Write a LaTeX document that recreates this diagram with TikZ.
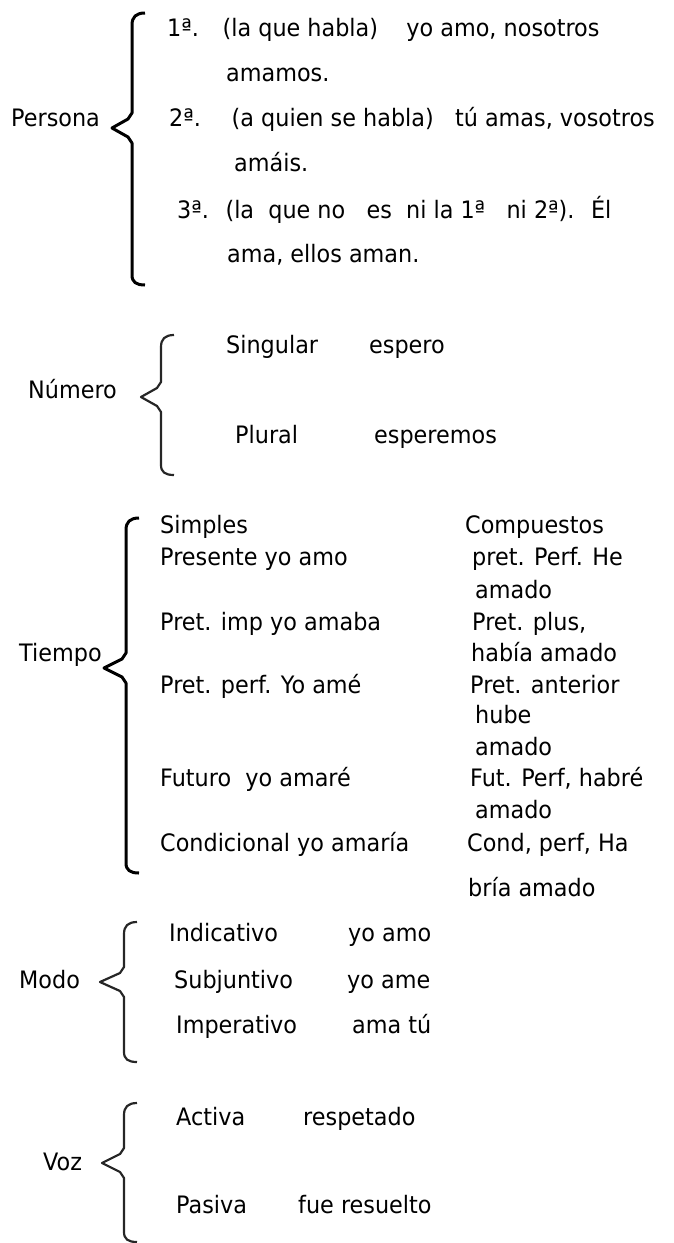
\documentclass[tikz,border=0pt]{standalone}
\usepackage{fontspec}
\setmainfont{DejaVu Sans}[FakeStretch=0.93]
\begin{document}
\begin{tikzpicture}[x=1pt,y=-1pt,
  txt/.style={anchor=base west,inner sep=0pt,font=\fontsize{24}{28}\selectfont},
  llave/.style={line width=2.2pt,line join=round,black!85},
  gruesa/.style={line width=3pt,black}]
\useasboundingbox (0,0) rectangle (673,1243);
% llave: x de la linea, arriba, abajo, punta x, punta y
\def\llave#1#2#3#4#5{
  (#1+13,#2) .. controls (#1+4,#2) and (#1,#2+4) .. (#1,#2+12)
  -- (#1,#5-15) -- (#1-4,#5-9) -- (#4,#5) -- (#1-4,#5+9) -- (#1,#5+15)
  -- (#1,#3-10) .. controls (#1,#3-3) and (#1+4,#3) .. (#1+13,#3)}
% Persona
\node[txt] (persona) at (11,126) {Persona};
\draw[llave,gruesa] \llave{132}{13}{285}{112}{128};
\node[txt] (p1) at (167,36) {1ª.~~ (la que habla)~~~ yo amo, nosotros};
\node[txt] (p2) at (226,81) {amamos.};
\node[txt] (p3) at (169,126) {2ª.~~~ (a quien se habla)~~ tú amas, vosotros};
\node[txt] (p4) at (234,171) {amáis.};
\node[txt] (p5) at (177,218) {3ª.~ (la~ que no~~ es~ ni la 1ª~~ ni 2ª).~ Él};
\node[txt] (p6) at (227,262) {ama, ellos aman.};
% Numero
\node[txt] (numero) at (28,398) {Número};
\draw[llave] \llave{161}{335}{475}{141}{397};
\node[txt] (sing) at (226,353) {Singular};
\node[txt] (espero) at (369,353) {espero};
\node[txt] (plural) at (235,443) {Plural};
\node[txt] (esperemos) at (374,443) {esperemos};
% Tiempo
\node[txt] (tiempo) at (19,661) {Tiempo};
\draw[llave,gruesa] \llave{126}{518}{873}{104}{668};
\node[txt] (simples) at (160,533) {Simples};
\node[txt] (compuestos) at (465,533) {Compuestos};
\node[txt] (t1) at (160,565) {Presente yo amo};
\node[txt] (c1) at (472,565) {pret. Perf. He};
\node[txt] (c1b) at (475,598) {amado};
\node[txt] (t2) at (160,630) {Pret. imp yo amaba};
\node[txt] (c2) at (472,630) {Pret. plus,};
\node[txt] (c2b) at (471,661) {había amado};
\node[txt] (t3) at (160,693) {Pret. perf. Yo amé};
\node[txt] (c3) at (470,693) {Pret. anterior};
\node[txt] (c3b) at (475,723) {hube};
\node[txt] (c3c) at (475,755) {amado};
\node[txt] (t4) at (160,786) {Futuro~ yo amaré};
\node[txt] (c4) at (470,786) {Fut. Perf, habré};
\node[txt] (c4b) at (475,818) {amado};
\node[txt] (t5) at (160,851) {Condicional yo amaría};
\node[txt] (c5) at (467,851) {Cond, perf, Ha};
\node[txt] (c5b) at (468,896) {bría amado};
% Modo
\node[txt] (modo) at (19,988) {Modo};
\draw[llave] \llave{124}{922}{1062}{100}{982};
\node[txt] (indic) at (169,941) {Indicativo};
\node[txt] (yoamo) at (348,941) {yo amo};
\node[txt] (subj) at (174,988) {Subjuntivo};
\node[txt] (yoame) at (347,988) {yo ame};
\node[txt] (imper) at (176,1033) {Imperativo};
\node[txt] (amatu) at (352,1033) {ama tú};
% Voz
\node[txt] (voz) at (43,1170) {Voz};
\draw[llave] \llave{124}{1103}{1242}{102}{1163};
\node[txt] (activa) at (176,1125) {Activa};
\node[txt] (respetado) at (303,1125) {respetado};
\node[txt] (pasiva) at (176,1213) {Pasiva};
\node[txt] (resuelto) at (298,1213) {fue resuelto};
\end{tikzpicture}
\end{document}
